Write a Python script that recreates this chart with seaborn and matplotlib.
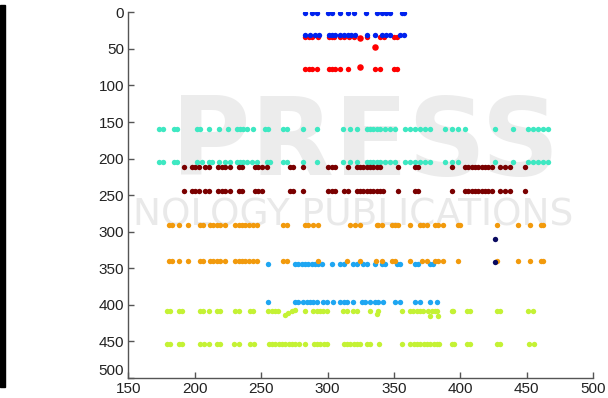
import pandas as pd
import matplotlib
matplotlib.use("Agg")
import matplotlib.pyplot as plt
import seaborn as sns

# point rows: x positions per row, plus the row's y level
blue_top_x = [283, 288, 292, 300.5, 303, 309, 315, 320, 329, 337, 341, 344, 347, 356, 357.5]
blue_mid_x = [282.7, 287, 290.7, 293.3, 300.8, 303.3, 305.8, 309.6, 312.1, 315.1, 317.6,
              320.9, 329.6, 335.9, 340.9, 344.2, 347.2, 354.7, 357.7]
red_mid_x = [282.7, 285.8, 288.3, 292.5, 300.8, 303.3, 305, 309.6, 312.1, 315.9, 319.6,
             329.6, 339.6, 342.1, 349.7, 352.2]
red_low_x = [282.7, 285.8, 288.3, 292, 300.8, 303.3, 305.8, 309.6, 315.1, 335.9, 339.6,
             349.7, 352.2]
red_extra_x = [324.6, 335.9, 324.6]
red_extra_y = [35, 47, 75]

cyan_top_x = [172.8, 176.5, 184.1, 186.6, 201.7, 204.1, 210.4, 218.6, 225.4, 231.7, 234.2,
              236.7, 239.2, 244.2, 253, 255.5, 266.8, 269.3, 281.8, 291.9, 311.9, 316.9,
              322, 329.5, 332, 334.4, 337, 339.5, 343.2, 347, 350.8, 358.3, 362, 365.8,
              369.6, 373.3, 377.1, 388.4, 393.4, 398.4, 403.4, 426, 439.7, 451, 454.8,
              458.5, 462.3, 466]
cyan_low_x = [172.8, 176.5, 184.1, 186.6, 201.7, 205.5, 210.4, 213, 218.6, 222.5, 226.5,
              231.7, 234.2, 236.7, 239.2, 243, 247, 254.5, 257, 266.8, 269.3, 281.8, 291.9,
              311.9, 316.9, 322, 329.5, 332, 334.4, 337, 339.5, 343.2, 347, 350.8, 358.3,
              362, 365.8, 369.6, 373.3, 377.1, 388.4, 393.4, 398.4, 426, 439.7, 451,
              454.8, 458.5, 462.3, 466]

maroon_top_x = [192.3, 197.9, 200.4, 202.9, 207.9, 210.4, 217.9, 220.5, 223, 226.7, 233,
                235.6, 245.5, 248, 250.5, 254.3, 271.8, 274.3, 281.8, 300.6, 303.1, 305.6,
                315.6, 322, 324.5, 327, 329.5, 332, 334.4, 337, 339.5, 353.2, 365.8, 368.3,
                393.4, 403.4, 405.9, 408.4, 410.9, 413.4, 416, 418.5, 421, 423.5, 429.7,
                433.5, 437.2, 448.5]
maroon_low_x = [192.3, 197.9, 200.4, 202.9, 207.9, 210.4, 217.9, 220.5, 223, 226.7, 233,
                235.6, 245.5, 248, 250.5, 271.8, 274.3, 281.8, 300.6, 303.1, 305.6, 312,
                315.6, 322, 324.5, 327, 329.5, 332, 334.4, 337, 339.5, 341.5, 353.2, 365.8,
                368.3, 393.4, 403.4, 405.9, 408.4, 410.9, 413.4, 416, 418.5, 421, 423.5,
                429.7, 433.5, 437.2, 448.5]

orange_top_x = [180.3, 182.8, 187.8, 194.9, 204.1, 206.6, 211.7, 214.1, 216.7, 219.2, 222.9,
                230.5, 233, 235.6, 238, 240.5, 244.2, 246.8, 266.8, 269.3, 283.1, 285.6,
                289.3, 293.1, 316.9, 320.7, 324.4, 337, 338.2, 340.7, 348.3, 350.8, 353.3,
                362, 369.6, 372, 374.6, 380.8, 383.3, 387.1, 398.4, 399.6, 427.2, 443.5,
                452.3, 461, 462.3]
orange_low_x = [180.3, 182.8, 187.8, 194.9, 204.1, 206.6, 211.7, 214.1, 216.7, 219.2, 222.9,
                230.5, 233, 235.6, 238, 240.5, 244.2, 246.8, 266.8, 269.3, 293.1, 314.4,
                324.4, 336.5, 340.7, 348.3, 350.8, 362, 371, 374.6, 380.8, 383.3, 387.1,
                398.4, 427.2, 443.5, 452.3, 461, 462.3]

navy_x = [426.2, 426.2]
navy_y = [310, 341]

sky_top_x = [255.5, 275.6, 278, 280.5, 283.1, 285.6, 288, 290.6, 293.1, 295.6, 303.1, 309.4,
             312, 319.4, 322, 327, 329.5, 335.7, 340.7, 343.2, 352, 354.5, 365.8, 368.3,
             377.1, 379.6]
sky_low_x = [255.5, 275.6, 278, 281.8, 284.4, 286.8, 289.3, 291.8, 296.8, 299.4, 304.4, 309.4,
             312, 314.4, 319.4, 325.7, 328.2, 332, 335.7, 338.2, 342, 350.8, 354.5, 365.8,
             369.6, 377.1, 382.1]

lime_top_x = [179.1, 181.6, 187.8, 190.4, 204.1, 206.6, 210.4, 216.7, 219.2, 230.5, 233,
              241.7, 244.2, 255.5, 258, 260.5, 263, 283.1, 289.3, 291.9, 294.4, 296.8,
              299.4, 311.9, 314.4, 319.4, 322, 332, 338.2, 355.8, 362, 364.6, 367.1, 369.6,
              372, 375.8, 378.3, 380.8, 382.1, 393.4, 394.6, 404.7, 407.1, 427.2, 429.7,
              451, 454.8]
lime_extra_x = [268, 270.5, 273, 275.6, 337, 377.1, 383.3]
lime_extra_y = [414, 411, 409, 407, 412, 415, 415]
lime_low_x = [179.1, 181.6, 187.9, 190.4, 204.2, 206.7, 210.4, 216.8, 219.2, 229.3, 233,
              241.8, 244.3, 255.6, 258.2, 260.6, 263.1, 265.7, 268.2, 270.7, 273.2, 275.7,
              278.2, 283.2, 289.5, 292, 294.5, 297, 299.6, 312, 314.6, 317.1, 319.6, 322.1,
              324.6, 329.7, 332.1, 338.4, 356, 362.3, 364.8, 367.3, 369.8, 372.3, 374.8,
              377.3, 379.9, 382.4, 383.6, 393.6, 394.9, 404.9, 407.4, 427.5, 430, 451.3,
              455.1]

# (group, x list, y level, colour) in drawing order
rows = [
    ("red", red_mid_x, 33.5, "#ff0000"),
    ("blue", blue_top_x, 1, "#0022ee"),
    ("blue", blue_mid_x, 31, "#0022ee"),
    ("red", red_low_x, 77.5, "#ff0000"),
    ("cyan", cyan_top_x, 159, "#3ee8c2"),
    ("cyan", cyan_low_x, 204.5, "#3ee8c2"),
    ("maroon", maroon_top_x, 212, "#7a0000"),
    ("maroon", maroon_low_x, 245, "#7a0000"),
    ("sky", sky_top_x, 344, "#1ea6f2"),
    ("sky", sky_low_x, 396, "#1ea6f2"),
    ("orange", orange_top_x, 291, "#f29a0c"),
    ("orange", orange_low_x, 340.5, "#f29a0c"),
    ("lime", lime_top_x, 408, "#c4f234"),
    ("lime", lime_low_x, 453.5, "#c4f234"),
]

sns.set_theme(style="white")
plt.rcParams["font.family"] = ["Liberation Sans", "DejaVu Sans"]

fig = plt.figure(figsize=(6.08, 3.98), dpi=100)
ax = fig.add_axes([0.211, 0.0503, 0.7648, 0.9188])
ax.set_facecolor("none")

# faint publisher watermark behind the plot, and the black strip at the left edge
fig.text(0.6, 0.635, "PRESS", fontsize=78, fontweight="bold", color="#ececec",
         family="DejaVu Sans", ha="center", va="center", zorder=-2)
fig.text(0.218, 0.458, "NOLOGY PUBLICATIONS", fontsize=27, color="#e9e9e9",
         family="DejaVu Sans", ha="left", va="center", zorder=-2)
fig.patches.append(plt.Rectangle((0, 0.028), 0.009, 0.96, transform=fig.transFigure,
                                 color="black", zorder=-1))

for name, xs, yl, col in rows:
    df = pd.DataFrame({"x": xs, "y": [yl] * len(xs)})
    sns.scatterplot(data=df, x="x", y="y", color=col, s=15, linewidth=0, ax=ax)

sns.scatterplot(x=red_extra_x, y=red_extra_y, color="#ff0000", s=22, linewidth=0, ax=ax)
sns.scatterplot(x=lime_extra_x, y=lime_extra_y, color="#c4f234", s=15, linewidth=0, ax=ax)
sns.scatterplot(x=navy_x, y=navy_y, color="#0a0a60", s=15, linewidth=0, ax=ax)

ax.set_xlim(150, 500)
ax.set_ylim(500, 0)
ax.set_xticks(range(150, 501, 50))
ax.set_yticks(range(0, 501, 50))
ax.set_xlabel("")
ax.set_ylabel("")
sns.despine(ax=ax)
for sp in ("left", "bottom"):
    ax.spines[sp].set_color("#555555")
    ax.spines[sp].set_linewidth(1)
ax.tick_params(direction="in", length=4, width=1, color="#555555",
               labelsize=11, labelcolor="#222222", pad=3, left=True, bottom=True)
# the corner labels "500" and "150" sit close in the reference; nudge apart a little
ax.get_yticklabels()[-1].set_va("bottom")

fig.savefig("out.png", dpi=100)
